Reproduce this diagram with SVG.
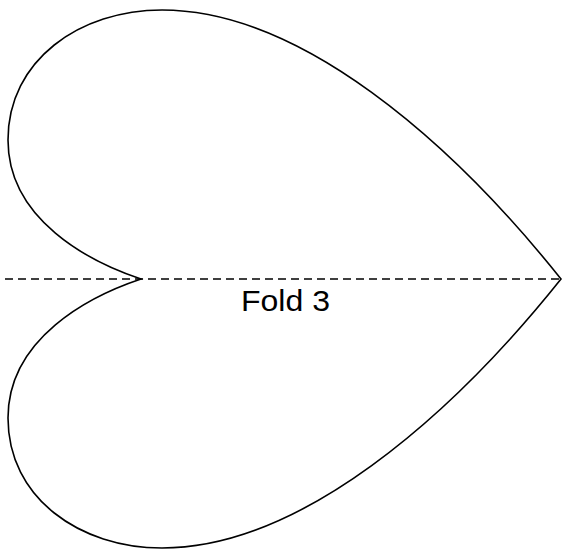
<svg xmlns="http://www.w3.org/2000/svg" width="563" height="558" viewBox="0 0 563 558">
<style>
.outline{fill:none;stroke:#000;stroke-width:1.6}
.fold{fill:none;stroke:#000;stroke-width:1.6;stroke-dasharray:8,5}
.label{font-family:"Liberation Sans",Arial,sans-serif;font-size:29px;fill:#000}
</style>
<rect width="563" height="558" fill="#fff"/>
<g id="heart">
<path class="outline" d="M141,279 C 90,262 8,220 8,140 C 8,60 80,10 162,10 C 300,10 450,140 561,279 C 450,418 300,548 162,548 C 80,548 8,498 8,418 C 8,338 90,296 141,279 Z"/>
</g>
<g id="connectors">
<line class="fold" x1="5" y1="279" x2="561" y2="279"/>
</g>
<g id="label">
<text class="label" x="285.5" y="311" text-anchor="middle" textLength="89" lengthAdjust="spacingAndGlyphs">Fold 3</text>
</g>
</svg>
